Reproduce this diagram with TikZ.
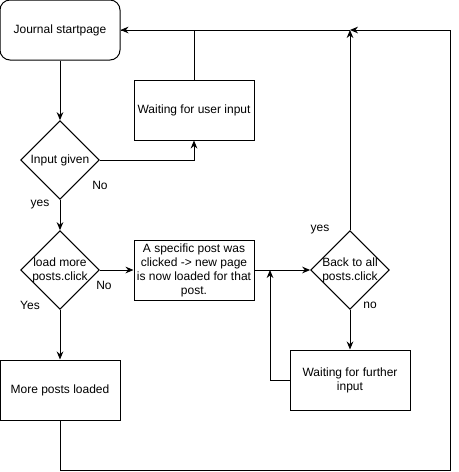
\documentclass[tikz,border=0pt]{standalone}
\usepackage{fontspec}
\setmainfont{Liberation Sans}
\usetikzlibrary{shapes.geometric,arrows.meta}
\begin{document}
\begin{tikzpicture}
  [x=0.75pt, y=-0.75pt, line width=0.75pt, font=\fontsize{9}{10.5}\selectfont,
   >={Stealth[length=6pt,width=5pt]},
   every node/.style={inner sep=1pt},
   startbox/.style={draw, rounded corners=7.5pt, minimum width=90pt, minimum height=45pt},
   stepbox/.style={draw, align=center, minimum width=90pt, minimum height=45pt},
   decision/.style={draw, diamond, aspect=1, inner sep=0pt, minimum width=59pt, minimum height=59pt},
   answer/.style={inner sep=0pt}]
  \useasboundingbox (0,0) rectangle (459,472);
  % boxes
  \node[startbox] (journal) at (60,30) {Journal startpage};
  \node[stepbox] (userwait) at (194,110) {Waiting for user input};
  \node[decision, label={[align=center]center:Input given}] (input) at (60,160) {};
  \node[decision, label={[align=center]center:load more\\posts.click}] (loadmore) at (60,270) {};
  \node[stepbox] (specific) at (194,270) {A specific post was\\clicked -> new page\\is now loaded for that\\post.};
  \node[decision, label={[align=center]center:Back to all\\posts.click}] (back) at (350,270) {};
  \node[stepbox] (further) at (350,380) {Waiting for further\\input};
  \node[stepbox] (more) at (60,390) {More posts loaded};
  % answers
  \node[answer] (inputno) at (100,185) {No};
  \node[answer] (inputyes) at (40,205) {yes};
  \node[answer] (loadno) at (104,285) {No};
  \node[answer] (loadyes) at (30,305) {Yes};
  \node[answer] (backyes) at (320,230) {yes};
  \node[answer] (backno) at (370,305) {no};
  % joins
  \coordinate (topjoin) at (350,30);
  \coordinate (loopbl) at (60,470);
  \coordinate (looptr) at (450,30);
  \coordinate (midjoin) at (270,270);
  % connectors
  \draw[->] (journal) -- (input);
  \draw[->] (input.east) -| (userwait.south);
  \draw[->] (userwait.north) |- (journal.east);
  \draw (topjoin) -- (journal.east);
  \draw[->] (input) -- (loadmore);
  \draw[->] (loadmore) -- (specific);
  \draw[->] (specific) -- (back);
  \draw[->] (loadmore) -- (more);
  \draw[->] (back) -- (further);
  \draw[->] (further.west) -| (midjoin);
  \draw[->] (back.north) -- (topjoin);
  \draw[->] (more.south) -- (loopbl) -| (looptr) -- (topjoin);
\end{tikzpicture}
\end{document}
